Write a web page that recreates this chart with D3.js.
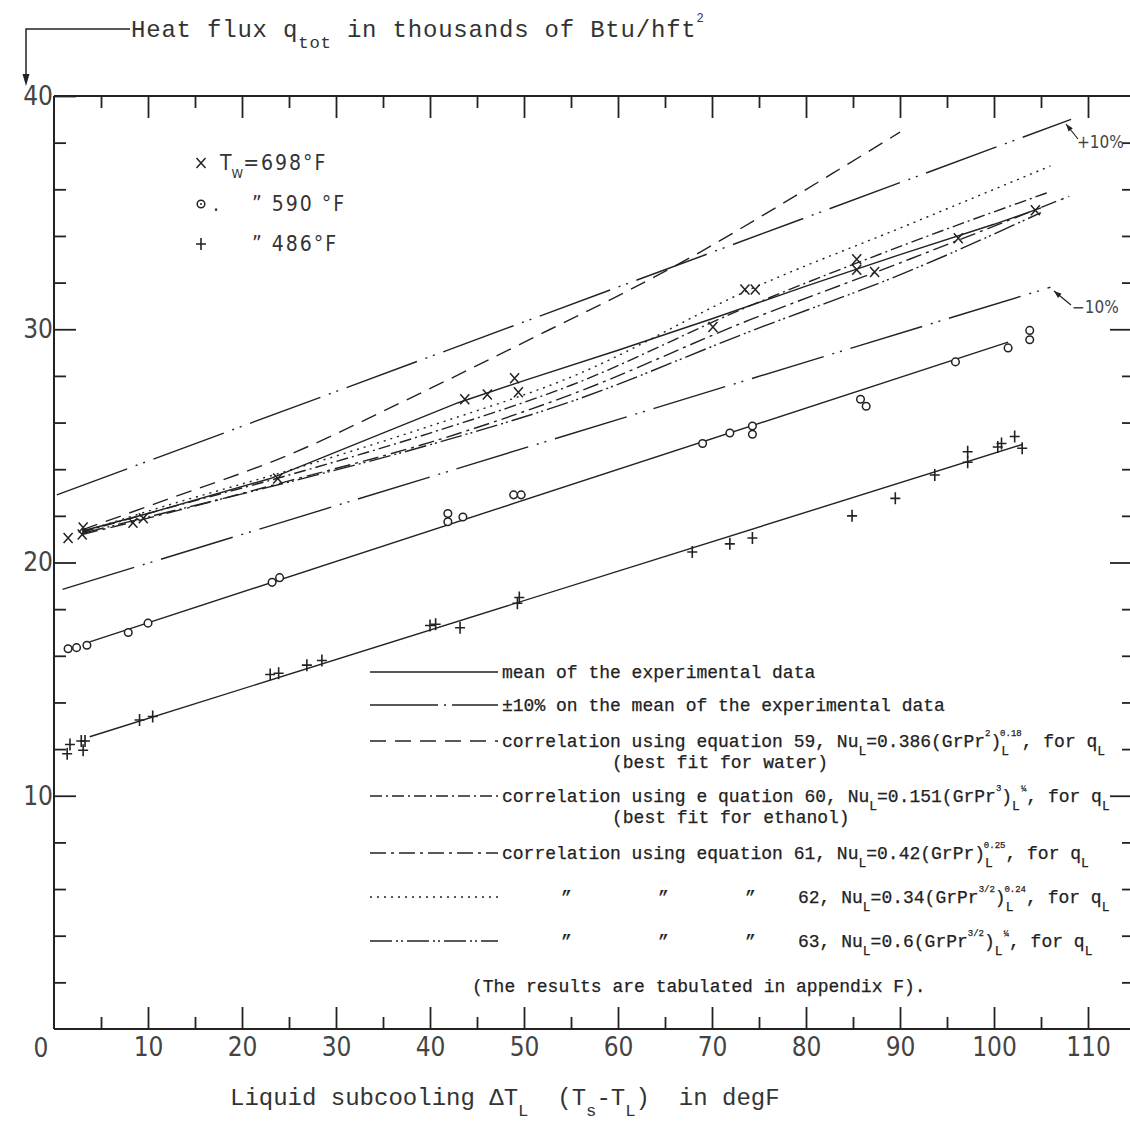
<!DOCTYPE html>
<html><head><meta charset="utf-8">
<script src="https://cdn.jsdelivr.net/npm/d3@7"></script>
<style>body{margin:0;background:#fff}</style>
</head><body><svg id="c" width="1130" height="1126"></svg>
<script>
// ---------------- data ----------------
const xMajorTicks = [10,20,30,40,50,60,70,80,90,100,110];
const xMinorTicks = [5,15,25,35,45,55,65,75,85,95,105];
const yMajorTicks = [10,20,30,40];
const yMinorTicks = [2,4,6,8,12,14,16,18,22,24,26,28,32,34,36,38];

// measured points, wall temperature 698 F (x)
const x698 = [1.5,3.0,3.1,8.4,9.5,23.8,43.7,46.1,49.0,49.4,70.1,73.5,74.6,85.4,85.4,87.3,96.2,104.4];
const y698 = [21.05,21.2,21.5,21.7,21.9,23.6,27.0,27.2,27.9,27.3,30.1,31.7,31.7,33.0,32.55,32.45,33.9,35.1];
// 590 F (o)
const x590 = [1.5,2.4,3.5,7.9,10.0,23.2,24.0,41.9,41.9,43.5,48.9,49.7,69.0,71.9,74.3,74.3,85.8,86.4,95.9,101.5,103.8,103.8];
const y590 = [16.3,16.35,16.45,17.0,17.4,19.15,19.35,21.75,22.1,21.95,22.9,22.9,25.1,25.55,25.5,25.85,27.0,26.7,28.6,29.2,29.55,29.95];
// 486 F (+)
const x486 = [1.4,1.7,2.9,3.3,3.1,9.1,10.5,23.0,23.9,26.9,28.5,40.0,40.6,43.2,49.3,49.5,67.9,71.9,74.3,84.9,89.5,93.7,97.2,97.2,100.4,100.8,102.2,103.0];
const y486 = [11.8,12.2,12.35,12.35,11.95,13.25,13.4,15.2,15.25,15.6,15.8,17.3,17.35,17.2,18.25,18.5,20.45,20.8,21.05,22.0,22.75,23.75,24.3,24.75,24.95,25.1,25.4,24.9];

// mean lines of the experimental data
const meanX698 = [3,10,23,43,50,60,70,80,90,100,105];
const meanY698 = [21.35,22.1,23.6,26.85,27.8,29.1,30.45,31.85,33.2,34.5,35.2];
const meanX590 = [3.8,101.5];
const meanY590 = [16.6,29.45];
const meanX486 = [3.8,103];
const meanY486 = [12.53,25.06];

// +/-10 % on the mean
const plusX = [0.3,108.2];
const plusY = [22.9,39.0];
const minusX = [0.9,106];
const minusY = [18.85,31.8];

// correlations
const eq59X = [3,11.3,24.9,37.5,52.8,61.3,68.7,75.9,82.9,90];
const eq59Y = [21.4,22.6,24.6,26.97,30.0,31.7,33.3,35.0,36.7,38.45];
const eq60X = [3,10,25,40,55,74,91,106];
const eq60Y = [21.3,22.1,23.75,25.55,27.6,31.0,33.7,35.9];
const eq61X = [3,10,25,40,55,74,91,108];
const eq61Y = [21.2,21.9,23.5,25.15,27.2,30.4,33.0,35.7];
const eq62X = [3,10,25,40,55,74,91,106];
const eq62Y = [21.3,22.2,23.95,25.85,27.95,31.7,34.5,37.0];
const eq63X = [3,10,25,40,55,74,91,105];
const eq63Y = [21.25,21.95,23.45,25.05,26.9,29.9,32.5,35.0];

// ---------------- drawing ----------------
const ink = '#222';
const mono = "'Liberation Mono','DejaVu Sans Mono',monospace";
const letter = "'DejaVu Sans Condensed','DejaVu Sans',sans-serif";
const svg = d3.select('#c');
svg.append('rect').attr('width',1130).attr('height',1126).attr('fill','#fff');

const x = d3.scaleLinear().domain([0,110]).range([54,1088]);
const y = d3.scaleLinear().domain([0,40]).range([1029,96]);

// frame
const frame = svg.append('g').attr('stroke',ink).attr('stroke-width',2);
frame.append('line').attr('x1',x(0)).attr('x2',x(0)).attr('y1',y(40)).attr('y2',y(0));
frame.append('line').attr('x1',x(0)).attr('x2',1130).attr('y1',y(40)).attr('y2',y(40));
frame.append('line').attr('x1',x(0)).attr('x2',1130).attr('y1',y(0)).attr('y2',y(0));

function ticks(gen, vals, size, tr, labels, pad){
  const g = svg.append('g').attr('transform',tr)
    .call(gen.tickValues(vals).tickSize(size).tickSizeOuter(0).tickPadding(pad||4)
      .tickFormat(labels ? d3.format('d') : ''));
  g.select('.domain').remove();
  g.selectAll('line').attr('stroke',ink).attr('stroke-width',1.8);
  g.selectAll('text').attr('font-family',letter).attr('font-size',26).attr('fill','#444');
  return g;
}
ticks(d3.axisLeft(y), yMinorTicks, -12, `translate(${x(0)},0)`, false);
ticks(d3.axisLeft(y), yMajorTicks, -22, `translate(${x(0)},0)`, true, 1);
ticks(d3.axisRight(y), yMinorTicks, -12, `translate(1134,0)`, false);
ticks(d3.axisRight(y), yMajorTicks.slice(0,3), -24, `translate(1134,0)`, false);
ticks(d3.axisBottom(x), xMinorTicks, -12, `translate(0,${y(0)})`, false);
ticks(d3.axisBottom(x), xMajorTicks, -22, `translate(0,${y(0)})`, true, 9);
ticks(d3.axisTop(x), xMinorTicks, -12, `translate(0,${y(40)})`, false);
ticks(d3.axisTop(x), xMajorTicks, -22, `translate(0,${y(40)})`, false);
svg.append('text').attr('x',41).attr('y',y(0)+28).attr('text-anchor','middle')
  .attr('font-family',letter).attr('font-size',26).attr('fill','#444').text('0');

// lines
const lineGen = d3.line().x(d=>x(d[0])).y(d=>y(d[1]));
const curveGen = d3.line().x(d=>x(d[0])).y(d=>y(d[1])).curve(d3.curveMonotoneX);
const zip = (a,b)=>a.map((v,i)=>[v,b[i]]);
const styles = {
  mean:'', pm:'75,9,2,6,2,9', eq59:'16,9', eq60:'12,4,2,4', eq61:'16,5,3,5', eq62:'2,5', eq63:'22,4,2,3,2,4'
};
function draw(X,Y,style,gen){
  svg.append('path').attr('d',(gen||lineGen)(zip(X,Y))).attr('fill','none')
    .attr('stroke',ink).attr('stroke-width',1.4).attr('stroke-dasharray',styles[style]||null);
}
draw(plusX,plusY,'pm');
draw(minusX,minusY,'pm');
draw(eq59X,eq59Y,'eq59',curveGen);
draw(eq60X,eq60Y,'eq60',curveGen);
draw(eq61X,eq61Y,'eq61',curveGen);
draw(eq62X,eq62Y,'eq62',curveGen);
draw(eq63X,eq63Y,'eq63',curveGen);
draw(meanX698,meanY698,'mean');
draw(meanX590,meanY590,'mean');
draw(meanX486,meanY486,'mean');

// markers
function marker(g,type){
  if(type==='x') g.append('path').attr('d','M-4.5,-5L4.5,5M-4.5,5L4.5,-5').attr('stroke',ink).attr('stroke-width',1.5).attr('fill','none');
  if(type==='o') g.append('circle').attr('r',3.8).attr('fill','#fff').attr('stroke',ink).attr('stroke-width',1.5);
  if(type==='+') g.append('path').attr('d','M-5,0H5M0,-6V6').attr('stroke',ink).attr('stroke-width',1.6).attr('fill','none');
}
function pts(X,Y,type){
  zip(X,Y).forEach(p=>{ const g=svg.append('g').attr('transform',`translate(${x(p[0])},${y(p[1])})`); marker(g,type); });
}
pts(x698,y698,'x'); pts(x590,y590,'o'); pts(x486,y486,'+');

// +/-10% annotations
function annot(tx,ty,hx,hy,label,lx,ly){
  svg.append('line').attr('x1',tx).attr('y1',ty).attr('x2',hx).attr('y2',hy).attr('stroke',ink).attr('stroke-width',1.2);
  const a=Math.atan2(hy-ty,hx-tx), L=8;
  svg.append('path').attr('d',`M${hx},${hy}L${hx-L*Math.cos(a-0.35)},${hy-L*Math.sin(a-0.35)}L${hx-L*Math.cos(a+0.35)},${hy-L*Math.sin(a+0.35)}Z`).attr('fill',ink);
  svg.append('text').attr('x',lx).attr('y',ly).attr('font-family',letter).attr('font-size',17).attr('fill','#444').text(label);
}
annot(1078,139,1066,124,'+10%',1077,148);
annot(1071,305,1054,291,'\u221210%',1072,313);

// top-left symbol legend
const tl = svg.append('g').attr('font-family',letter).attr('font-size',21).attr('fill','#333');
[[163,'x'],[204,'o'],[244,'+']].forEach(([yy,t])=>{const g=svg.append('g').attr('transform',`translate(201,${yy})`); marker(g,t); if(t==='o') g.append('circle').attr('r',1).attr('fill',ink);});
let t1 = tl.append('text').attr('x',220).attr('y',170);
t1.append('tspan').text('T');
t1.append('tspan').attr('font-size',13).attr('y',178).text('W');
t1.append('tspan').attr('y',170).attr('letter-spacing',2).text('=698\u00b0F');
tl.append('text').attr('x',213).attr('y',211).text('.');
tl.append('text').attr('x',252).attr('y',211).attr('letter-spacing',2).text('\u201d 590 \u00b0F');
tl.append('text').attr('x',252).attr('y',251).attr('letter-spacing',2).text('\u201d 486\u00b0F');

// rich text helper
function rich(parent, xx, yy, parts, size){
  const t = parent.append('text').attr('x',xx).attr('y',yy).attr('font-family',mono).attr('font-size',size).attr('fill',ink).attr('xml:space','preserve');
  parts.forEach(p=>{
    const [s,k,dx] = p;
    const ts = t.append('tspan').text(s);
    if(k==='sub') ts.attr('y',yy+size*0.45).attr('font-size',size*0.72);
    else if(k==='sup') ts.attr('y',yy-size*0.62).attr('font-size',size*0.5);
    else ts.attr('y',yy);
    if(dx) ts.attr('dx',dx);
  });
  return t;
}
// y title with arrow
svg.append('path').attr('d','M130,29H26V78').attr('fill','none').attr('stroke',ink).attr('stroke-width',1.5);
svg.append('path').attr('d','M26,86L22.5,74L29.5,74Z').attr('fill',ink);
rich(svg,131,37,[['Heat flux q'],['tot','sub'],[' in thousands of Btu/hft'],['2','sup']],24).attr('fill','#333').attr('letter-spacing',0.8);
rich(svg,230,1105,[['Liquid subcooling \u0394T'],['L','sub'],['  (T'],['s','sub'],['-T'],['L','sub'],[')  in degF']],24).attr('fill','#333');

// bottom legend
const lg = svg.append('g').attr('stroke',ink).attr('stroke-width',0.25);
const sampleRows = [[672,'mean'],[705,'pm'],[741,'eq59'],[796,'eq60'],[853,'eq61'],[897,'eq62'],[941,'eq63']];
sampleRows.forEach(([yy,s])=>{
  lg.append('line').attr('x1',370).attr('x2',498).attr('y1',yy).attr('y2',yy).attr('stroke',ink).attr('stroke-width',1.3).attr('stroke-dasharray',s==='pm'?'68,6,2,6,48':(styles[s]||null));
});
const fs=18;
rich(lg,502,678,[['mean of the experimental data']],fs);
rich(lg,502,711,[['\u00b110% on the mean of the experimental data']],fs);
rich(lg,502,747,[['correlation using equation 59, Nu'],['L','sub'],['=0.386(GrPr'],['2','sup'],[')'],['L','sub'],['0.18','sup',-9],[', for q'],['L','sub']],fs);
rich(lg,612,768,[['(best fit for water)']],fs);
rich(lg,502,802,[['correlation using e quation 60, Nu'],['L','sub'],['=0.151(GrPr'],['3','sup'],[')'],['L','sub'],['\u00bc','sup',1],[', for q'],['L','sub']],fs);
rich(lg,612,823,[['(best fit for ethanol)']],fs);
rich(lg,502,859,[['correlation using equation 61, Nu'],['L','sub'],['=0.42(GrPr)'],['L','sub'],['0.25','sup',-9],[', for q'],['L','sub']],fs);
[903,947].forEach(yy=>[561,658,745].forEach(xx=>rich(lg,xx,yy,[['\u201d']],fs)));
rich(lg,798,903,[['62, Nu'],['L','sub'],['=0.34(GrPr'],['3/2','sup'],[')'],['L','sub'],['0.24','sup',-9],[', for q'],['L','sub']],fs);
rich(lg,798,947,[['63, Nu'],['L','sub'],['=0.6(GrPr'],['3/2','sup'],[')'],['L','sub'],['\u00bc','sup',1],[', for q'],['L','sub']],fs);
rich(lg,472,992,[['(The results are tabulated in appendix F).']],fs);
</script></body></html>
